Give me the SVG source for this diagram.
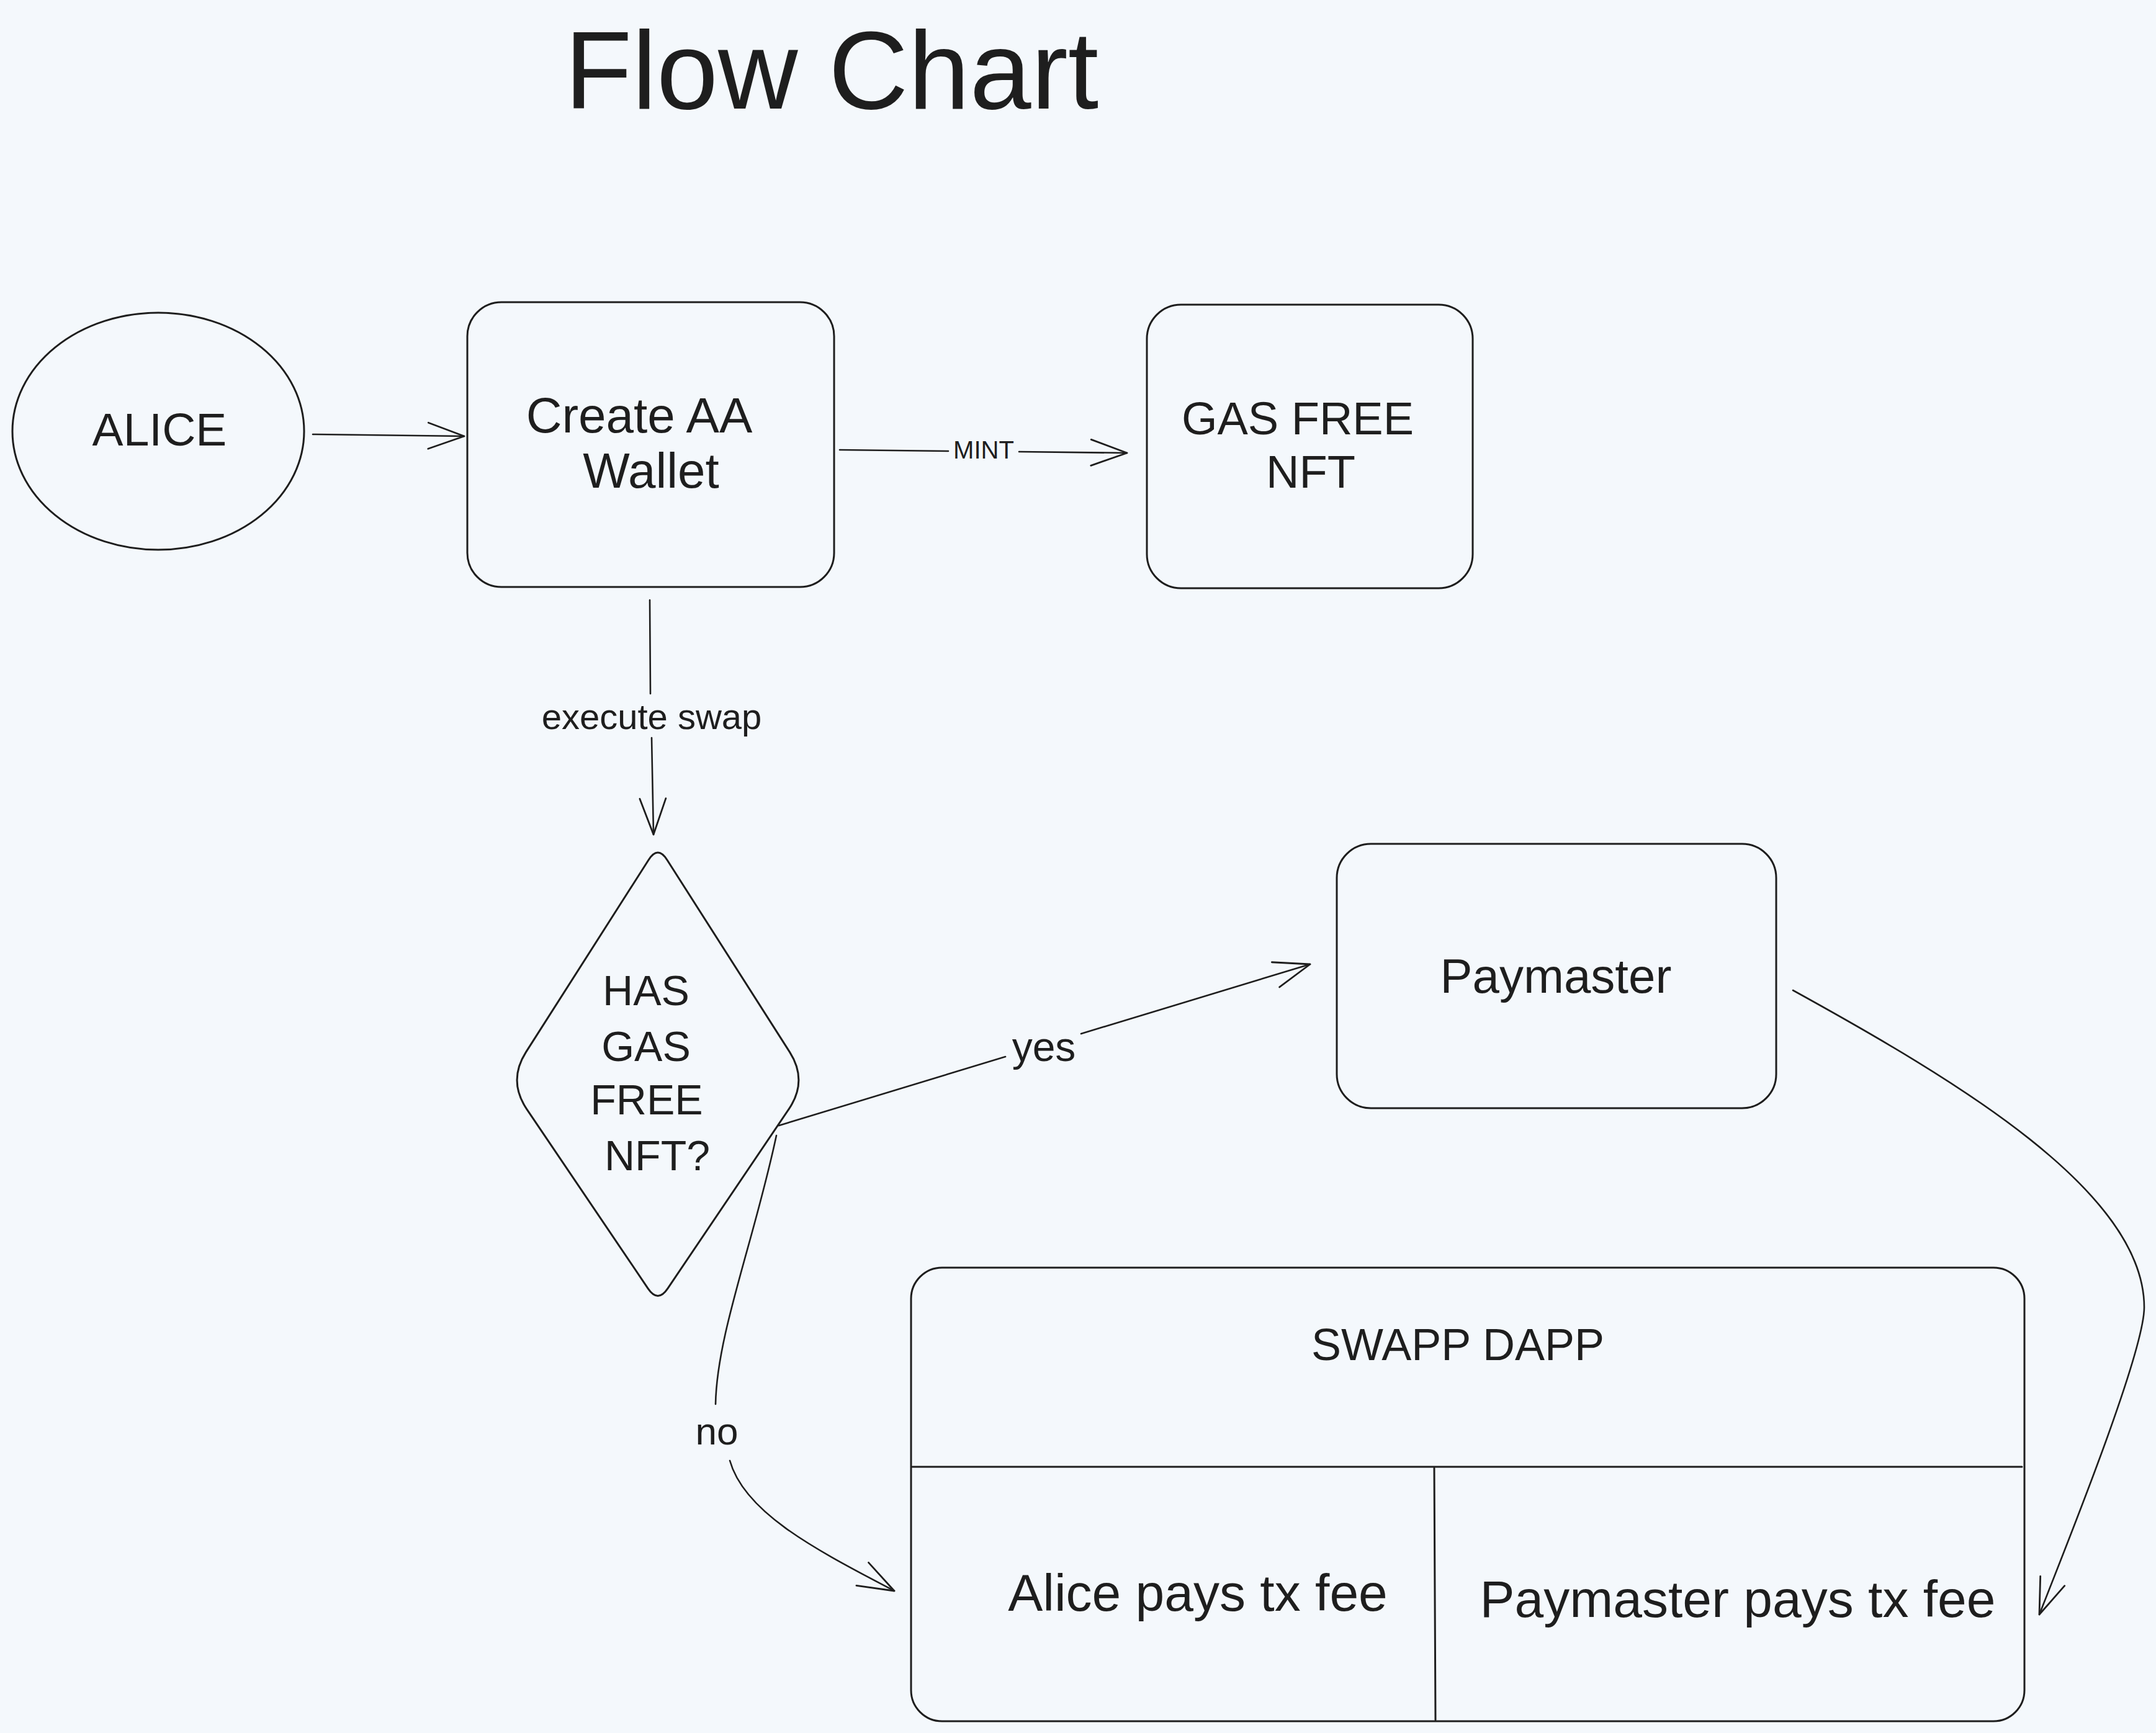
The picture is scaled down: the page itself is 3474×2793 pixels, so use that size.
<svg xmlns="http://www.w3.org/2000/svg" width="3474" height="2793" viewBox="0 0 3474 2793">
<style>
.shape{fill:none;stroke:#1e1e1e;stroke-width:3;stroke-linejoin:round;stroke-linecap:round}
.conn{fill:none;stroke:#1e1e1e;stroke-width:2.6;stroke-linecap:round;marker-end:url(#arr)}
.t{font-family:"Liberation Sans",Arial,sans-serif;fill:#1e1e1e;text-anchor:middle}
</style>
<defs>
<marker id="arr" viewBox="-62 -26 66 52" refX="0" refY="0" markerWidth="66" markerHeight="52" markerUnits="userSpaceOnUse" orient="auto" overflow="visible">
<path d="M-58,-21 L0,0 L-58,21" fill="none" stroke="#1e1e1e" stroke-width="2.8" stroke-linecap="round" stroke-linejoin="round"/>
</marker>
</defs>
<rect width="3474" height="2793" fill="#f4f8fc"/>
<text class="t" x="1340" y="175" font-size="178">Flow Chart</text>

<g id="alice">
<ellipse class="shape" cx="255" cy="695" rx="235" ry="191"/>
<text class="t" x="257" y="718" font-size="75">ALICE</text>
</g>
<g id="create-wallet">
<rect class="shape" x="753" y="487" width="591" height="459" rx="55"/>
<text class="t" x="1030" y="697" font-size="80">Create AA</text>
<text class="t" x="1049" y="786" font-size="80">Wallet</text>
</g>
<g id="gas-free-nft">
<rect class="shape" x="1848" y="491" width="525" height="457" rx="55"/>
<text class="t" x="2091" y="700" font-size="74">GAS FREE</text>
<text class="t" x="2112" y="786" font-size="74">NFT</text>
</g>
<g id="decision">
<path class="shape" d="M1045 1386 Q1060 1362 1075 1386 L1272.5 1695.6 Q1302 1742 1271 1787.6 L1075.7 2076.8 Q1060 2100 1044.3 2076.8 L848.8 1787.6 Q818 1742 847.5 1695.6 Z"/>
<text class="t" x="1041" y="1620" font-size="68">HAS</text>
<text class="t" x="1041" y="1710" font-size="68">GAS</text>
<text class="t" x="1042" y="1796" font-size="68">FREE</text>
<text class="t" x="1059" y="1886" font-size="68">NFT?</text>
</g>
<g id="paymaster">
<rect class="shape" x="2154" y="1360" width="708" height="426" rx="55"/>
<text class="t" x="2507" y="1600" font-size="78">Paymaster</text>
</g>
<g id="swapp-dapp">
<rect class="shape" x="1468" y="2043" width="1794" height="731" rx="50"/>
<path class="shape" d="M1470 2364 L3258 2364" stroke-width="4"/>
<path class="shape" d="M2311 2366 L2313 2772"/>
<text class="t" x="2349" y="2192" font-size="72">SWAPP DAPP</text>
<text class="t" x="1930" y="2596" font-size="84">Alice pays tx fee</text>
<text class="t" x="2800" y="2606" font-size="84">Paymaster pays tx fee</text>
</g>

<g id="connectors">
<path class="conn" d="M504 700 L748 703"/>
<path class="conn" d="M1353 725 L1528 727 M1642 728 L1816 730"/>
<text class="t" x="1585" y="739" font-size="40">MINT</text>
<path class="conn" d="M1047 967 L1048 1118 M1050 1189 L1053 1345"/>
<text class="t" x="1050" y="1175" font-size="58">execute swap</text>
<path class="conn" d="M1255 1814 L1620 1703 M1742 1666 L2111 1554"/>
<text class="t" x="1682" y="1710" font-size="66">yes</text>
<path class="conn" d="M1251 1830 C1215 2000 1155 2150 1153 2263 M1176 2354 C1200 2440 1320 2500 1441 2564"/>
<text class="t" x="1155" y="2328" font-size="62">no</text>
<path class="conn" d="M2889 1596 C3150 1740 3455 1920 3455 2107 C3455 2180 3330 2490 3286 2602"/>
</g>
</svg>
